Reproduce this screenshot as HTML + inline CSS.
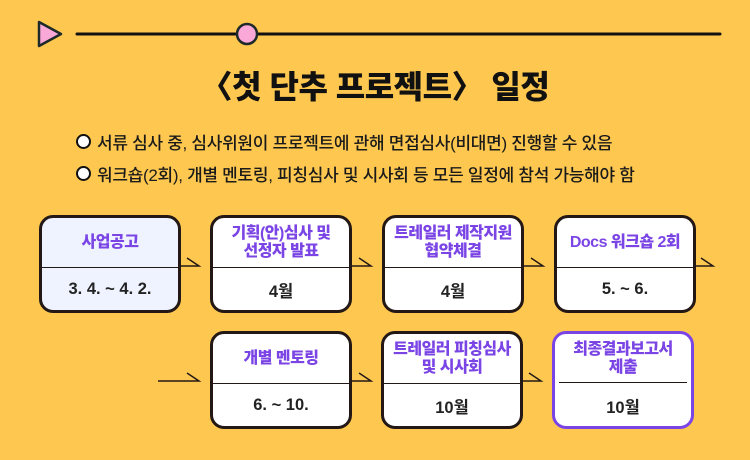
<!DOCTYPE html>
<html><head><meta charset="utf-8"><style>
body{margin:0;width:750px;height:460px;background:#FEC850;position:relative;overflow:hidden;font-family:"Liberation Sans","Noto Sans CJK KR",sans-serif;}
.t{position:absolute;left:0;width:750px;text-align:center;top:62px;font-size:32px;font-weight:900;color:#111;letter-spacing:-0.5px;}
.b{position:absolute;left:76px;font-size:17px;color:#1a1a1a;font-weight:500;letter-spacing:-0.3px;}
.b span{display:inline-block;width:11px;height:11px;border:2px solid #111;border-radius:50%;background:#fff;vertical-align:0px;margin-right:6px;}
.box{position:absolute;width:136px;height:92px;border:3px solid #231815;border-radius:14px;background:#fff;}
.box .h{position:absolute;top:0;left:0;right:0;height:49px;display:flex;align-items:center;justify-content:center;text-align:center;color:#7B45E6;font-weight:900;font-size:16px;line-height:18px;border-bottom:1.5px solid #231815;letter-spacing:-0.5px;}
.box .d{position:absolute;top:51px;left:0;right:0;height:41px;display:flex;align-items:center;justify-content:center;font-weight:700;font-size:16.5px;color:#222;}
</style></head><body>
<svg width="750" height="460" style="position:absolute;left:0;top:0">
<polygon points="39,22 61,34 39,46" fill="#F9A8D8" stroke="#1e2a2a" stroke-width="2.5" stroke-linejoin="round"/>
<line x1="77" y1="34" x2="720" y2="34" stroke="#111" stroke-width="3" stroke-linecap="round"/>
<circle cx="247" cy="34" r="10" fill="#F9A8D8" stroke="#1e2a2a" stroke-width="2.5"/>
<g stroke="#231815" stroke-width="1.5" fill="none">
<polyline points="178,266 199,266 187,258"/>
<polyline points="350,266 371,266 359,258"/>
<polyline points="522,266 543,266 531,258"/>
<polyline points="694,266 713,266 701,258"/>
<polyline points="158,381 199,381 187,373"/>
<polyline points="350,381 371,381 359,373"/>
<polyline points="520,381 541,381 529,373"/>
</g>
</svg>
<div class="t">〈첫 단추 프로젝트〉 일정</div>
<div class="b" style="top:129px"><span></span>서류 심사 중, 심사위원이 프로젝트에 관해 면접심사(비대면) 진행할 수 있음</div>
<div class="b" style="top:161px"><span></span>워크숍(2회), 개별 멘토링, 피칭심사 및 시사회 등 모든 일정에 참석 가능해야 함</div>

<div class="box" style="left:39px;top:215px;background:#EEF3FF"><div class="h">사업공고</div><div class="d">3. 4. ~ 4. 2.</div></div>
<div class="box" style="left:210px;top:215px"><div class="h">기획(안)심사 및<br>선정자 발표</div><div class="d">4월</div></div>
<div class="box" style="left:382px;top:215px"><div class="h">트레일러 제작지원<br>협약체결</div><div class="d">4월</div></div>
<div class="box" style="left:554px;top:215px"><div class="h">Docs 워크숍 2회</div><div class="d">5. ~ 6.</div></div>

<div class="box" style="left:210px;top:331px"><div class="h">개별 멘토링</div><div class="d">6. ~ 10.</div></div>
<div class="box" style="left:381px;top:331px"><div class="h">트레일러 피칭심사<br>및 시사회</div><div class="d">10월</div></div>
<div class="box" style="left:552px;top:331px;border-color:#7B45E6"><div class="h" style="border:none"><div style="position:absolute;left:4px;right:4px;bottom:0;border-bottom:1.5px solid #231815"></div>최종결과보고서<br>제출</div><div class="d">10월</div></div>
</body></html>
